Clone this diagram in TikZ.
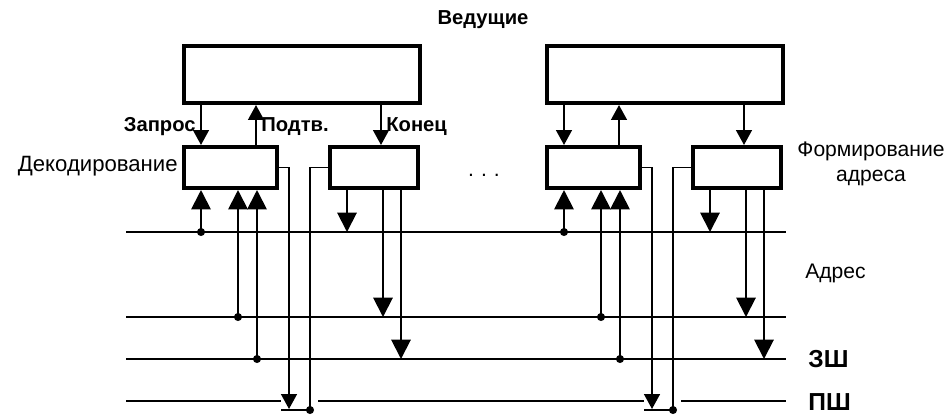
\documentclass[tikz,border=0pt]{standalone}
\usepackage{fontspec}
\setmainfont{Liberation Sans}
\usetikzlibrary{arrows.meta}

\begin{document}
\begin{tikzpicture}[x=0.02cm,y=-0.02cm,
  box/.style={draw,line width=2.3pt,inner sep=0pt},
  bus/.style={line width=1.2pt},
  wire/.style={line width=1.1pt},
  dn/.style={wire,-{Triangle[width=9pt,length=8.5pt]}},
  up/.style={wire,-{Triangle[width=9pt,length=8.5pt]}},
  big/.style={wire,-{Triangle[width=11pt,length=11pt]}},
  lbl/.style={font=\fontsize{11.5}{13}\selectfont\bfseries,inner sep=0pt},
  txt/.style={font=\fontsize{12}{14}\selectfont,inner sep=0pt}]
\useasboundingbox (0,0) rectangle (947,417);

% buses
\coordinate (busa) at (126,232); \coordinate (busaE) at (786,232);
\coordinate (busb) at (126,317); \coordinate (busbE) at (786,317);
\coordinate (busz) at (126,359); \coordinate (buszE) at (786,359);
\coordinate (busp) at (126,401); \coordinate (buspE) at (786,401);
\draw[bus] (busa) -- (busaE);
\draw[bus] (busb) -- (busbE);
\draw[bus] (busz) -- (buszE);

% masters with decoders and address units
\foreach \g/\dx in {L/0,R/363}{
  \node[box,minimum width=4.72cm,minimum height=1.14cm] (m\g) at (\dx+302,74.5) {};
  \node[box,minimum width=1.86cm,minimum height=0.82cm] (d\g) at (\dx+230.5,167.5) {};
  \node[box,minimum width=1.76cm,minimum height=0.82cm] (f\g) at (\dx+374,167.5) {};
  \coordinate (rq\g) at (\dx+201,0);
  \coordinate (ak\g) at (\dx+256,0);
  \coordinate (en\g) at (\dx+381,0);
  \draw[dn] (rq\g |- m\g.south) -- (rq\g |- d\g.north);
  \draw[up] (ak\g |- d\g.north) -- (ak\g |- m\g.south);
  \draw[dn] (en\g |- m\g.south) -- (en\g |- f\g.north);
  % taps into the decoder
  \foreach \t/\bs in {201/a,238/b,257/z}{
    \coordinate (t) at (\dx+\t,0);
    \draw[big] (t |- bus\bs) -- (t |- d\g.south);
    \fill (t |- bus\bs) circle[radius=2.3pt];
  }
  % drops from the address unit
  \foreach \t/\bs in {347/a,383/b,401/z}{
    \coordinate (t) at (\dx+\t,0);
    \draw[big] (t |- f\g.south) -- (t |- bus\bs);
  }
  % link to the grant line
  \coordinate (q\g) at (\dx+289,409);
  \coordinate (r\g) at (\dx+310,410);
  \coordinate (s\g) at (\dx+281,410);
  \coordinate (g1\g) at (\dx+281,401);
  \coordinate (g2\g) at (\dx+318,401);
  \draw[dn] (d\g.east) -| (q\g);
  \draw[wire] (f\g.west) -| (r\g);
  \draw[wire] (s\g) -- (r\g);
  \fill (r\g) circle[radius=2.3pt];
}
\draw[bus] (busp) -- (g1L);
\draw[bus] (g2L) -- (g1R);
\draw[bus] (g2R) -- (buspE);

% labels
\node[lbl] (ved) at (483,20) {Ведущие};
\node[lbl,anchor=east] (zap) at (196,127) {Запрос};
\node[lbl,anchor=west] (pod) at (261,127) {Подтв.};
\node[lbl,anchor=west] (kon) at (386,127) {Конец};
\node[txt,font=\fontsize{12.6}{14}\selectfont,anchor=east] (dek) at (178,166) {Декодирование};
\node[txt,anchor=base] (dots) at (484,176) {.\,\,.\,\,.};
\node[txt,align=center] (form) at (871,164) {Формирование\\адреса};
\node[txt,anchor=west] (adr) at (805,273) {Адрес};
\node[lbl,font=\fontsize{14}{16}\selectfont\bfseries,anchor=west] (zsh) at (808,359) {ЗШ};
\node[lbl,font=\fontsize{14}{16}\selectfont\bfseries,anchor=west] (psh) at (808,402) {ПШ};
\end{tikzpicture}
\end{document}
